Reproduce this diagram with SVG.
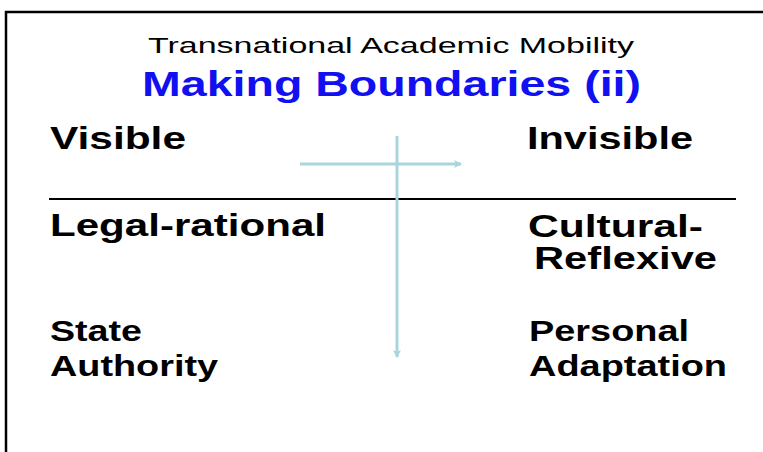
<svg xmlns="http://www.w3.org/2000/svg" width="763" height="452" viewBox="0 0 763 452">
<style>
.t{font-family:"Liberation Sans",Arial,sans-serif;font-weight:bold;fill:#000;}
.lbl{font-size:32px;}
.sm{font-size:29px;}
.arr{stroke:#a9d6dc;stroke-width:3;fill:none;}
</style>
<defs>
<marker id="ah" markerWidth="10" markerHeight="10" refX="7" refY="5" orient="auto" markerUnits="userSpaceOnUse">
<path d="M0,1 L8,5 L0,9 L2,5 Z" fill="#a9d6dc"/>
</marker>
</defs>
<rect x="0" y="0" width="763" height="452" fill="#fff"/>
<path d="M6,452 L6,12 L763,12" stroke="#000" stroke-width="2.5" fill="none"/>
<g id="title">
<text x="148" y="53" textLength="486" lengthAdjust="spacingAndGlyphs" style="font-family:'Liberation Sans',Arial,sans-serif;font-size:22px;fill:#000">Transnational Academic Mobility</text>
<text x="142" y="96" textLength="499" lengthAdjust="spacingAndGlyphs" class="t" style="font-size:35px;fill:#1010f0">Making Boundaries (ii)</text>
</g>
<line x1="49" y1="199" x2="736" y2="199" stroke="#000" stroke-width="2"/>
<g id="connectors">
<line class="arr" x1="300" y1="164" x2="461" y2="164" marker-end="url(#ah)"/>
<line class="arr" x1="397" y1="136" x2="397" y2="357" marker-end="url(#ah)"/>
</g>
<g id="visible"><text class="t lbl" x="50" y="149" textLength="136" lengthAdjust="spacingAndGlyphs">Visible</text></g>
<g id="invisible"><text class="t lbl" x="527" y="149" textLength="166" lengthAdjust="spacingAndGlyphs">Invisible</text></g>
<g id="legal"><text class="t lbl" x="50" y="236" textLength="276" lengthAdjust="spacingAndGlyphs">Legal-rational</text></g>
<g id="cultural"><text class="t lbl" x="528" y="237" textLength="175" lengthAdjust="spacingAndGlyphs">Cultural-</text><text class="t lbl" x="534" y="269" textLength="183" lengthAdjust="spacingAndGlyphs">Reflexive</text></g>
<g id="state"><text class="t sm" x="50" y="341" textLength="92" lengthAdjust="spacingAndGlyphs">State</text><text class="t sm" x="50" y="376" textLength="168" lengthAdjust="spacingAndGlyphs">Authority</text></g>
<g id="personal"><text class="t sm" x="529" y="341" textLength="160" lengthAdjust="spacingAndGlyphs">Personal</text><text class="t sm" x="529" y="376" textLength="198" lengthAdjust="spacingAndGlyphs">Adaptation</text></g>
</svg>
